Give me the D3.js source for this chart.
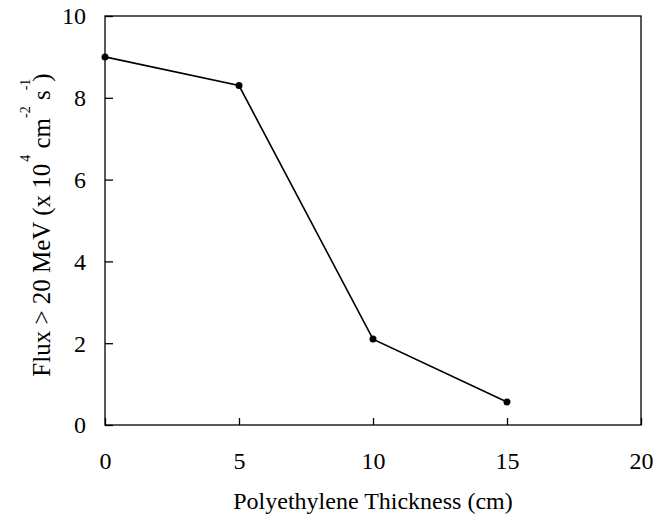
<!DOCTYPE html>
<html>
<head>
<meta charset="utf-8">
<script src="https://cdn.jsdelivr.net/npm/d3@7"></script>
<style>
  body { margin: 0; background: #fff; }
  svg text { font-family: "Liberation Serif", "Times New Roman", serif; fill: #000; }
</style>
</head>
<body>
<svg id="chart" width="666" height="518"></svg>
<script>
// Flux above 20 MeV versus polyethylene shielding thickness
const thickness = [0, 5, 10, 15];
const flux = [9.0, 8.3, 2.1, 0.56];
const xTicks = [0, 5, 10, 15, 20];
const yTicks = [0, 2, 4, 6, 8, 10];

const svg = d3.select("#chart");
const W = 666, H = 518;
const margin = { left: 105, right: 25, top: 16, bottom: 93 };

const x = d3.scaleLinear().domain([0, 20]).range([margin.left, W - margin.right]);
const y = d3.scaleLinear().domain([0, 10]).range([H - margin.bottom, margin.top]);

// frame around the plotting area
svg.append("rect")
  .attr("x", x(0)).attr("y", y(10))
  .attr("width", x(20) - x(0)).attr("height", y(0) - y(10))
  .attr("fill", "none").attr("stroke", "#000").attr("stroke-width", 1.3);

// x axis: inward ticks
const xAxis = d3.axisBottom(x).tickValues(xTicks).tickSizeInner(-7).tickSizeOuter(0);
const gx = svg.append("g").attr("transform", `translate(0,${y(0)})`).call(xAxis);
gx.select(".domain").remove();
gx.selectAll(".tick line").attr("stroke-width", 1.3);
gx.selectAll(".tick text").attr("font-size", 24).attr("font-family", null)
  .attr("dy", null).attr("y", 44);

// y axis: inward ticks
const yAxis = d3.axisLeft(y).tickValues(yTicks).tickSizeInner(-8).tickSizeOuter(0);
const gy = svg.append("g").attr("transform", `translate(${x(0)},0)`).call(yAxis);
gy.select(".domain").remove();
gy.selectAll(".tick line").attr("stroke-width", 1.3);
gy.selectAll(".tick text").attr("font-size", 24).attr("font-family", null)
  .attr("x", -19).attr("dy", "0.33em");

// data line and markers
const pts = thickness.map((t, i) => [t, flux[i]]);
svg.append("path")
  .datum(pts)
  .attr("d", d3.line().x(d => x(d[0])).y(d => y(d[1])))
  .attr("fill", "none").attr("stroke", "#000").attr("stroke-width", 1.6);
svg.selectAll("circle.pt").data(pts).enter().append("circle")
  .attr("class", "pt")
  .attr("cx", d => x(d[0])).attr("cy", d => y(d[1])).attr("r", 3.5).attr("fill", "#000");

// axis titles
svg.append("text")
  .attr("x", (x(0) + x(20)) / 2).attr("y", 509)
  .attr("text-anchor", "middle").attr("font-size", 24)
  .text("Polyethylene Thickness (cm)");

const yt = svg.append("text")
  .attr("transform", "translate(50,225) rotate(-90)")
  .attr("text-anchor", "middle").attr("font-size", 25);
yt.append("tspan").text("Flux > 20 MeV (x 10");
yt.append("tspan").attr("font-size", 14).attr("dy", -20).attr("dx", 2).text("4");
yt.append("tspan").attr("dy", 20).text(" cm");
yt.append("tspan").attr("font-size", 14).attr("dy", -20).text("-2");
yt.append("tspan").attr("dy", 20).text(" s");
yt.append("tspan").attr("font-size", 14).attr("dy", -20).text("-1");
yt.append("tspan").attr("dy", 20).attr("dx", -3).text(")");
</script>
</body>
</html>
